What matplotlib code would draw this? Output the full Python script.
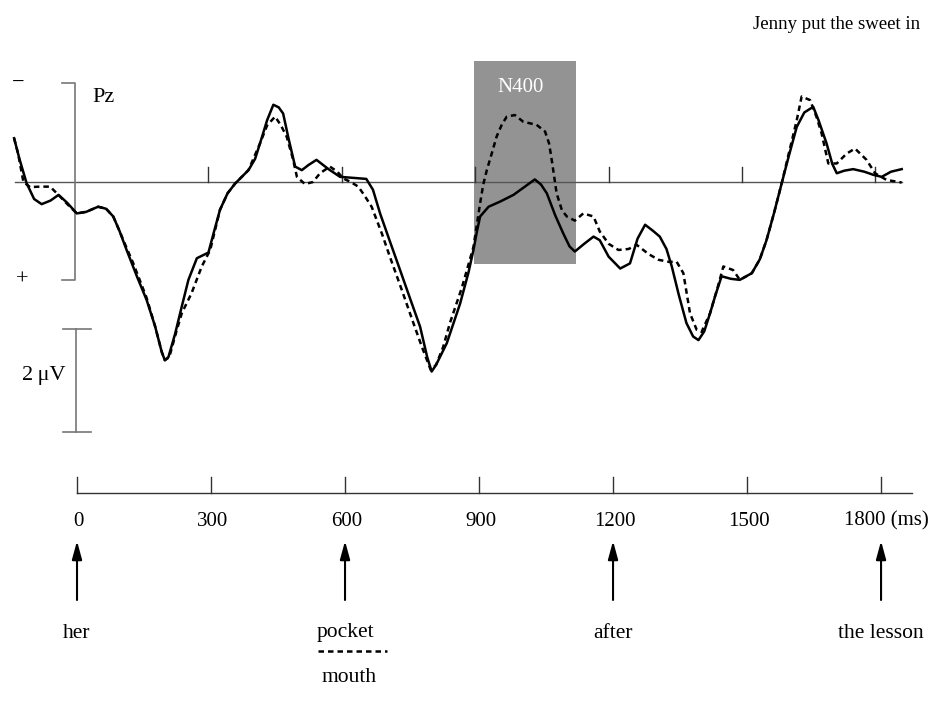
import matplotlib.pyplot as plt
import numpy as np

plt.rcParams['font.family'] = ['Liberation Serif', 'DejaVu Serif']

# ERP waveform at Pz, time in ms, amplitude in microvolts (negative up)
t_pocket = [-137, -125, -109, -92, -75, -55, -37, -18, 4, 25, 52, 70, 86, 100, 116, 140, 161, 180,
            195, 202, 210, 225, 240, 255, 274, 300, 313, 326, 343, 360, 390, 405, 416, 432, 446, 458,
            468, 480, 495, 510, 525, 543, 570, 596, 626, 655, 670, 686, 708, 731, 755, 776, 792, 802,
            812, 836, 866, 885, 896, 904, 911, 930, 956, 986, 1010, 1034, 1048, 1061, 1080, 1098,
            1112, 1124, 1145, 1166, 1180, 1200, 1226, 1248, 1265, 1282, 1300, 1315, 1330, 1342, 1358,
            1375, 1390, 1402, 1415, 1428, 1440, 1454, 1475, 1495, 1522, 1540, 1555, 1572, 1589, 1605,
            1623, 1640, 1660, 1672, 1690, 1703, 1713, 1730, 1750, 1775, 1795, 1814, 1835, 1859]
v_pocket = [-0.85, -0.45, 0.02, 0.33, 0.43, 0.36, 0.25, 0.40, 0.61, 0.58, 0.48, 0.52, 0.67, 0.95,
            1.32, 1.85, 2.29, 2.80, 3.30, 3.46, 3.40, 2.95, 2.42, 1.90, 1.48, 1.37, 0.95, 0.54, 0.22,
            0.03, -0.23, -0.45, -0.75, -1.20, -1.50, -1.45, -1.33, -0.85, -0.30, -0.23, -0.33, -0.43,
            -0.25, -0.10, -0.08, -0.06, 0.15, 0.61, 1.15, 1.71, 2.30, 2.81, 3.40, 3.68, 3.55, 3.13,
            2.36, 1.75, 1.32, 0.95, 0.67, 0.48, 0.38, 0.25, 0.10, -0.05, 0.05, 0.22, 0.65, 1.00, 1.25,
            1.35, 1.20, 1.06, 1.13, 1.45, 1.68, 1.58, 1.10, 0.83, 0.95, 1.06, 1.30, 1.64, 2.20, 2.74,
            3.00, 3.07, 2.90, 2.55, 2.20, 1.83, 1.88, 1.90, 1.77, 1.50, 1.13, 0.60, 0.03, -0.50, -1.07,
            -1.35, -1.46, -1.20, -0.75, -0.35, -0.17, -0.22, -0.25, -0.20, -0.14, -0.10, -0.20, -0.25]

t_mouth = [-137, -128, -116, -101, -80, -56, -34, -15, 4, 25, 52, 70, 86, 100, 116, 131, 161, 180,
           195, 202, 212, 228, 240, 262, 285, 304, 326, 343, 360, 390, 416, 432, 450, 463, 476, 490,
           499, 517, 535, 551, 573, 590, 603, 620, 637, 650, 667, 690, 708, 735, 761, 780, 800, 812,
           828, 843, 870, 896, 911, 918, 926, 937, 948, 960, 971, 989, 1008, 1038, 1057, 1066, 1072,
           1083, 1095, 1106, 1124, 1143, 1166, 1180, 1200, 1222, 1245, 1263, 1290, 1312, 1335, 1353,
           1368, 1383, 1398, 1409, 1428, 1445, 1458, 1480, 1495, 1522, 1540, 1555, 1572, 1589, 1605,
           1623, 1634, 1653, 1668, 1679, 1694, 1713, 1735, 1754, 1780, 1799, 1825, 1859]
v_mouth = [-0.85, -0.55, 0.00, 0.10, 0.09, 0.09, 0.28, 0.45, 0.61, 0.58, 0.48, 0.52, 0.67, 0.95,
           1.28, 1.58, 2.25, 2.80, 3.30, 3.46, 3.40, 2.90, 2.55, 2.16, 1.64, 1.32, 0.54, 0.22, 0.03,
           -0.23, -0.75, -1.10, -1.27, -1.10, -0.88, -0.45, -0.10, 0.04, 0.00, -0.17, -0.30, -0.20,
           -0.07, 0.00, 0.09, 0.25, 0.48, 1.00, 1.45, 2.10, 2.74, 3.20, 3.65, 3.55, 3.20, 2.74, 2.05,
           1.26, 0.41, 0.05, -0.23, -0.55, -0.88, -1.12, -1.27, -1.30, -1.17, -1.11, -0.98, -0.75,
           -0.43, 0.22, 0.55, 0.67, 0.75, 0.61, 0.67, 0.96, 1.20, 1.32, 1.30, 1.22, 1.40, 1.51, 1.55,
           1.55, 1.77, 2.55, 2.87, 2.91, 2.55, 2.05, 1.64, 1.71, 1.90, 1.77, 1.50, 1.13, 0.60, 0.03,
           -0.55, -1.20, -1.66, -1.59, -1.25, -0.94, -0.36, -0.36, -0.55, -0.65, -0.43, -0.17, -0.04,
           0.01]

n400_window = (897, 1127)   # ms
n400_range = (-2.35, 1.59)  # microvolts

tick_ms = [0, 300, 600, 900, 1200, 1500, 1800]
tick_labels = ['0', '300', '600', '900', '1200', '1500', '1800 (ms)']
word_onsets = [0, 600, 1200, 1800]
words = ['her', 'pocket', 'after', 'the lesson']


fig = plt.figure(figsize=(9.33, 7.17), dpi=100)

# --- waveform panel: x in ms, y in microvolts (negative plotted up) ---
ax = fig.add_axes([0, 0, 1, 1])
ax.set_xlim(-168.7, 1929.4)
ax.set_ylim(10.388, -3.534)
ax.axis('off')

ax.plot([-135, 1860], [0, 0], color='#555555', lw=1)
for t in tick_ms[1:]:
    ax.plot([t, t], [0, -0.29], color='#333333', lw=1)

ax.add_patch(plt.Rectangle((n400_window[0], n400_range[0]), n400_window[1] - n400_window[0],
                           n400_range[1] - n400_range[0], color='#939393', zorder=1, lw=0))
ax.text(1001, -1.84, 'N400', color='white', fontsize=15, ha='center', va='center', zorder=2)

ax.plot(t_pocket, v_pocket, color='black', lw=1.8, zorder=3, solid_joinstyle='round')
ax.plot(t_mouth, v_mouth, color='black', lw=1.8, ls=(0, (2.2, 1.6)), zorder=3)

# polarity bracket
ax.plot([-29, 0, 0, -29], [-1.92, -1.92, 1.90, 1.90], color='#777777', lw=1.2)
ax.text(-128, -1.92, '\u2212', fontsize=16, ha='center', va='center')
ax.text(-119, 1.90, '+', fontsize=16, ha='center', va='center')
ax.text(38, -1.65, 'Pz', fontsize=16, ha='left', va='center')

# 2 microvolt scale bar
ax.plot([-27, 36], [2.85, 2.85], color='#777777', lw=1.2)
ax.plot([-27, 36], [4.85, 4.85], color='#777777', lw=1.2)
ax.plot([3, 3], [2.85, 4.85], color='#777777', lw=1.2)
ax.text(-70, 3.75, '2\u2009\u03bcV', fontsize=16, ha='center', va='center')

ax.text(1712, -3.05, 'Jenny put the sweet in', fontsize=13.5, ha='center', va='center')

# --- timeline panel: x in ms, y in figure rows ---
ax2 = fig.add_axes([0, 0, 1, 1])
ax2.set_xlim(-172.4, 1916.3)
ax2.set_ylim(717, 0)
ax2.axis('off')

ax2.plot([0, 1870], [493, 493], color='#333333', lw=1)
for t, lab in zip(tick_ms, tick_labels):
    ax2.plot([t, t], [493, 477], color='#333333', lw=1)
    if lab.endswith('(ms)'):
        ax2.text(1906, 521, lab, fontsize=15, ha='right', va='center')
    else:
        ax2.text(t + 4, 521, lab, fontsize=15, ha='center', va='center')

for t, w in zip(word_onsets, words):
    ax2.annotate('', xy=(t, 541), xytext=(t, 600),
                 arrowprops=dict(arrowstyle='-|>,head_length=1.1,head_width=0.3',
                                 color='black', lw=1.5, shrinkA=0, shrinkB=0))
    ax2.text(t, 633, w, fontsize=15.5, ha='center', va='center')

ax2.plot([540, 694], [651, 651], color='black', lw=1.8, ls=(0, (2.2, 1.6)))
ax2.text(608, 677, 'mouth', fontsize=15.5, ha='center', va='center')

fig.savefig('out.png', dpi=100)
